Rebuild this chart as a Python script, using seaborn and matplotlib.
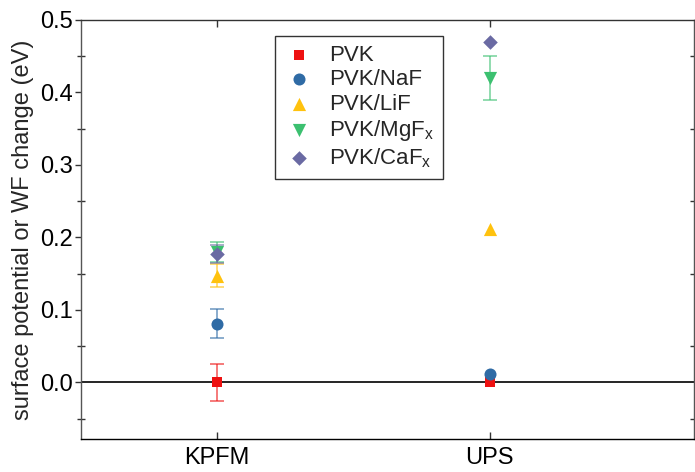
import numpy as np
import pandas as pd
import matplotlib
matplotlib.use("Agg")
import matplotlib.pyplot as plt
import seaborn as sns
from matplotlib.ticker import MultipleLocator

sns.set_theme(style="white")
plt.rcParams['font.family'] = ['Liberation Sans', 'DejaVu Sans']
plt.rcParams['mathtext.fontset'] = 'custom'
plt.rcParams['mathtext.rm'] = 'Liberation Sans'
plt.rcParams['mathtext.it'] = 'Liberation Sans'

methods = ["KPFM", "UPS"]
samples = ["PVK", "PVK/NaF", "PVK/LiF", "PVK/MgF$_x$", "PVK/CaF$_x$"]
kpfm_values = [0.0, 0.081, 0.147, 0.180, 0.177]
kpfm_errors = [0.025, 0.020, 0.016, 0.014, 0.012]
ups_values = [0.0, 0.011, 0.211, 0.420, 0.470]
ups_errors = [0.0, 0.0, 0.0, 0.030, 0.0]

colors = ["#EE1111", "#2F6BA5", "#FFC20E", "#3CC070", "#6A6AA3"]
markers = ["s", "o", "^", "v", "D"]
sizes = [45, 75, 90, 90, 55]

rows = []
for m, vals, errs in [("KPFM", kpfm_values, kpfm_errors), ("UPS", ups_values, ups_errors)]:
    for s, v, e in zip(samples, vals, errs):
        rows.append({"method": m, "x": methods.index(m), "sample": s, "value": v, "err": e})
df = pd.DataFrame(rows)

fig = plt.figure(figsize=(6.95, 4.72), dpi=100)
ax = fig.add_axes([81/695, 1-439/472, (694-81)/695, (439-20)/472])

ax.axhline(0, color="black", lw=1.2, zorder=1)

# error bars
for s, c in zip(samples, colors):
    sub = df[(df["sample"] == s) & (df["err"] > 0)]
    if len(sub):
        ax.errorbar(sub["x"], sub["value"], yerr=sub["err"], fmt="none",
                    ecolor=c, alpha=0.6, elinewidth=1.3, capsize=5, capthick=1.3, zorder=2)

for s, c, mk, sz in zip(samples, colors, markers, sizes):
    sub = df[df["sample"] == s]
    sns.scatterplot(data=sub, x="x", y="value", color=c, marker=mk, s=sz,
                    linewidth=0, ax=ax, label=s, zorder=3)

ax.set_xlim(-0.5, 1.75)
ax.set_ylim(-0.078, 0.5)
ax.set_xticks([0, 1])
ax.set_xticklabels(methods, fontsize=17)
ax.set_xlabel("")
ax.set_ylabel("surface potential or WF change (eV)", fontsize=17, labelpad=4)
ax.yaxis.set_major_locator(MultipleLocator(0.1))
ax.yaxis.set_minor_locator(MultipleLocator(0.05))
ax.set_yticks(np.arange(0, 0.51, 0.1))
ax.set_yticklabels([f"{v:.1f}" for v in np.arange(0, 0.51, 0.1)], fontsize=17)

for sp in ax.spines.values():
    sp.set_color("#555555")
    sp.set_linewidth(1.0)
ax.spines["bottom"].set_color("black")
ax.spines["top"].set_color("#333333")

ax.tick_params(axis="y", which="major", direction="out", length=4, width=1, left=True, right=True, colors="#333333", labelcolor="black", pad=2)
ax.tick_params(axis="y", which="minor", direction="inout", length=6, width=1, left=True, right=True, colors="#333333")
ax.tick_params(axis="y", which="both", right=True)
ax.tick_params(axis="x", which="major", direction="in", length=5, width=1, bottom=True, top=True, colors="#333333", labelcolor="black", pad=6)

leg = ax.legend(loc="upper left", bbox_to_anchor=(194/613, 1-16/419), borderaxespad=0,
                frameon=True, fancybox=False,
                fontsize=16, edgecolor="#333333", framealpha=1, borderpad=0.4,
                labelspacing=0.15, handletextpad=0.65, handlelength=1.4)
leg.get_frame().set_linewidth(1.0)

fig.savefig("out.png", dpi=100)
